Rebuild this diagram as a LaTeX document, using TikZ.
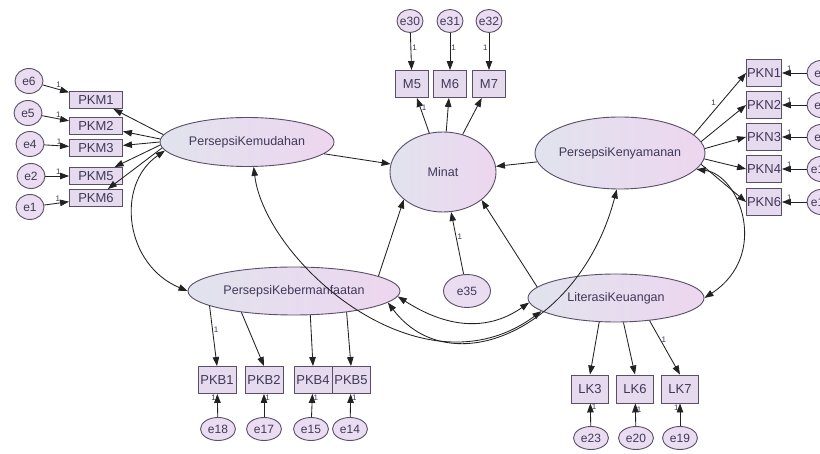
\documentclass[tikz,border=0pt]{standalone}
\usepackage{fontspec}
\setmainfont{Liberation Sans}
\usetikzlibrary{shapes.geometric,arrows.meta}
\definecolor{txt}{HTML}{403858}
\definecolor{edgec}{HTML}{222222}
\definecolor{bord}{HTML}{5A4E68}
\definecolor{latL}{HTML}{E1E3EE}
\definecolor{latR}{HTML}{EDD6EF}
\definecolor{boxF}{HTML}{E6DBEE}
\definecolor{errF}{HTML}{EADDF1}
\newcommand\zwbox[1]{\makebox[0pt]{#1}}
\begin{document}
\begin{tikzpicture}[x=1pt,y=-1pt,
 lat/.style={ellipse, draw=bord, line width=0.9pt, left color=latL, right color=latR, inner sep=0pt, font=\fontsize{12.5}{14}\selectfont, text=txt},
 obs/.style={rectangle, draw=bord, line width=0.9pt, fill=boxF, inner sep=0pt, font=\fontsize{13}{14}\selectfont, text=txt},
 err/.style={ellipse, draw=bord, line width=0.9pt, fill=errF, inner sep=0pt, font=\fontsize{12}{13}\selectfont, text=txt},
 pkm/.style={obs, minimum width=53pt, minimum height=17pt},
 pkn/.style={obs, minimum width=35pt, minimum height=27pt},
 mbox/.style={obs, minimum width=33pt, minimum height=27pt},
 pkb/.style={obs, minimum width=38pt, minimum height=27pt},
 lkb/.style={obs, minimum width=37pt, minimum height=28pt},
 errL/.style={err, minimum width=28pt, minimum height=25pt},
 errM/.style={err, minimum width=26pt, minimum height=23pt},
 errB/.style={err, minimum width=35pt, minimum height=23pt},
 reg/.style={draw=edgec, line width=0.85pt, -{Triangle[length=9pt,width=6.5pt]}},
 cov/.style={draw=edgec, line width=0.85pt, {Triangle[length=9pt,width=6.5pt]}-{Triangle[length=9pt,width=6.5pt]}},
 one/.style={font=\fontsize{8}{9}\selectfont, text=txt, inner sep=1pt}
]
\path[use as bounding box] (0,0) rectangle (820,454);
\clip (0,0) rectangle (820,454);
\fill[white] (0,0) rectangle (820,454);

% latent variables
\node[lat, minimum width=174pt, minimum height=49pt] (PK) at (247,142) {\zwbox{PersepsiKemudahan}};
\node[lat, minimum width=106pt, minimum height=80pt] (MI) at (443,172) {\zwbox{Minat}};
\node[lat, minimum width=170pt, minimum height=72pt] (PY) at (620,153) {\zwbox{PersepsiKenyamanan}};
\node[lat, minimum width=212pt, minimum height=48pt] (PB) at (294,291) {\zwbox{PersepsiKebermanfaatan}};
\node[lat, minimum width=176pt, minimum height=48pt] (LK) at (616,298) {\zwbox{LiterasiKeuangan}};
\node[err, minimum width=47pt, minimum height=33pt] (e35) at (467,291) {\zwbox{e35}};

% PKM indicators
\node[pkm] (PKM1) at (96,100) {PKM1};
\node[pkm] (PKM2) at (96,126) {PKM2};
\node[pkm] (PKM3) at (96,148) {PKM3};
\node[pkm] (PKM5) at (96,176) {PKM5};
\node[pkm] (PKM6) at (96,198) {PKM6};
\node[errL] (e6) at (29,81) {\zwbox{e6}};
\node[errL] (e5) at (28,113) {\zwbox{e5}};
\node[errL] (e4) at (30,144) {\zwbox{e4}};
\node[errL] (e2) at (31,176) {\zwbox{e2}};
\node[errL] (e1) at (30,207) {\zwbox{e1}};

% Minat indicators
\node[mbox] (M5) at (412,84) {M5};
\node[mbox] (M6) at (450,84) {M6};
\node[mbox] (M7) at (489,84) {M7};
\node[errM] (e30) at (410,21) {\zwbox{e30}};
\node[errM] (e31) at (450,21) {\zwbox{e31}};
\node[errM] (e32) at (489,21) {\zwbox{e32}};

% PKN indicators
\node[pkn] (PKN1) at (764,73) {PKN1};
\node[pkn] (PKN2) at (764,105) {PKN2};
\node[pkn] (PKN3) at (764,137) {PKN3};
\node[pkn] (PKN4) at (764,169) {PKN4};
\node[pkn] (PKN6) at (764,202) {PKN6};
\node[errL] (e7) at (821,73) {\zwbox{e7}};
\node[errL] (e8) at (821,105) {\zwbox{e8}};
\node[errL] (e9) at (821,137) {\zwbox{e9}};
\node[errL] (e10) at (821,169) {\zwbox{e10}};
\node[errL] (e12) at (821,202) {\zwbox{e12}};

% PKB indicators
\node[pkb] (PKB1) at (217,380) {PKB1};
\node[pkb] (PKB2) at (264,380) {PKB2};
\node[pkb] (PKB4) at (313,380) {PKB4};
\node[pkb] (PKB5) at (351,380) {PKB5};
\node[errB] (e18) at (218,429) {\zwbox{e18}};
\node[errB] (e17) at (264,429) {\zwbox{e17}};
\node[errB] (e15) at (311,429) {\zwbox{e15}};
\node[errB] (e14) at (350,429) {\zwbox{e14}};

% LK indicators
\node[lkb] (LK3) at (590,389) {LK3};
\node[lkb] (LK6) at (635,389) {LK6};
\node[lkb] (LK7) at (680,389) {LK7};
\node[errB] (e23) at (591,438) {\zwbox{e23}};
\node[errB] (e20) at (636,438) {\zwbox{e20}};
\node[errB] (e19) at (680,438) {\zwbox{e19}};

% errors -> PKM
\draw[reg] (e6) -- (PKM1) node[one, pos=.6, above] {1};
\draw[reg] (e5) -- (PKM2) node[one, pos=.6, above] {1};
\draw[reg] (e4) -- (PKM3) node[one, pos=.6, above] {1};
\draw[reg] (e2) -- (PKM5) node[one, pos=.55, above] {1};
\draw[reg] (e1) -- (PKM6) node[one, pos=.55, above] {1};
% PK -> PKM
\draw[reg] (PK.175) -- (PKM1);
\draw[reg] (PK.178) -- (PKM2);
\draw[reg] (PK.180) -- (PKM3);
\draw[reg] (PK.182) -- (PKM5);
\draw[reg] (PK.184) -- (PKM6);

% errors -> M
\draw[reg] (e30) -- (M5) node[one, pos=.4, right] {1};
\draw[reg] (e31) -- (M6) node[one, pos=.4, right] {1};
\draw[reg] (e32) -- (M7) node[one, pos=.4, left] {1};
% Minat -> M
\draw[reg] (MI) -- (M5) node[one, pos=.72, right] {1};
\draw[reg] (MI) -- (M6);
\draw[reg] (MI) -- (M7);

% errors -> PKN
\draw[reg] (e7) -- (PKN1) node[one, pos=.7, above] {1};
\draw[reg] (e8) -- (PKN2) node[one, pos=.7, above] {1};
\draw[reg] (e9) -- (PKN3) node[one, pos=.7, above] {1};
\draw[reg] (e10) -- (PKN4) node[one, pos=.7, above] {1};
\draw[reg] (e12) -- (PKN6) node[one, pos=.7, above] {1};
% PY -> PKN
\draw[reg] (PY.14) -- (PKN1.west) node[one, pos=.45, above left] {1};
\draw[reg] (PY.8) -- (PKN2.west);
\draw[reg] (PY.3) -- (PKN3.west);
\draw[reg] (PY.-4) -- (PKN4.west);
\draw[reg] (PY.-8) -- (PKN6.west);

% PB -> PKB
\draw[reg] (PB.190) -- (PKB1.north) node[one, pos=.4, right] {1};
\draw[reg] (PB.202) -- (PKB2.north);
\draw[reg] (PB.304) -- (PKB4.north);
\draw[reg] (PB.338) -- (PKB5.north);
\draw[reg] (e18) -- (PKB1) node[one, pos=.85, left] {1};
\draw[reg] (e17) -- (PKB2) node[one, pos=.85, right] {1};
\draw[reg] (e15) -- (PKB4) node[one, pos=.85, right] {1};
\draw[reg] (e14) -- (PKB5) node[one, pos=.85, right] {1};

% LK -> LK items
\draw[reg] (LK.235) -- (LK3.north);
\draw[reg] (LK.287) -- (LK6.north);
\draw[reg] (LK.326) -- (LK7.north) node[one, pos=.35, right] {1};
\draw[reg] (e23) -- (LK3) node[one, pos=.85, right] {1};
\draw[reg] (e20) -- (LK6) node[one, pos=.7, right] {1};
\draw[reg] (e19) -- (LK7) node[one, pos=.8, left] {1};

% structural paths
\draw[reg] (PK) -- (MI);
\draw[reg] (PY) -- (MI);
\draw[reg] (PB.10) -- (MI.215);
\draw[reg] (LK.172) -- (MI.-36);
\draw[reg] (e35) -- (MI) node[one, pos=.6, right] {1};

% covariances
\draw[cov] (PK.186) .. controls (115,185) and (125,265) .. (PB.west);
\draw[cov] (PY.-12) .. controls (740,175) and (770,255) .. (LK.east);
\draw[cov] (PK.-75) .. controls (265,260) and (420,400) .. (LK.190);
\draw[cov] (PB.-3) .. controls (450,330) and (490,330) .. (LK.183);
\draw[cov] (PB.-7) .. controls (450,385) and (580,330) .. (PY.265);
\end{tikzpicture}
\end{document}
